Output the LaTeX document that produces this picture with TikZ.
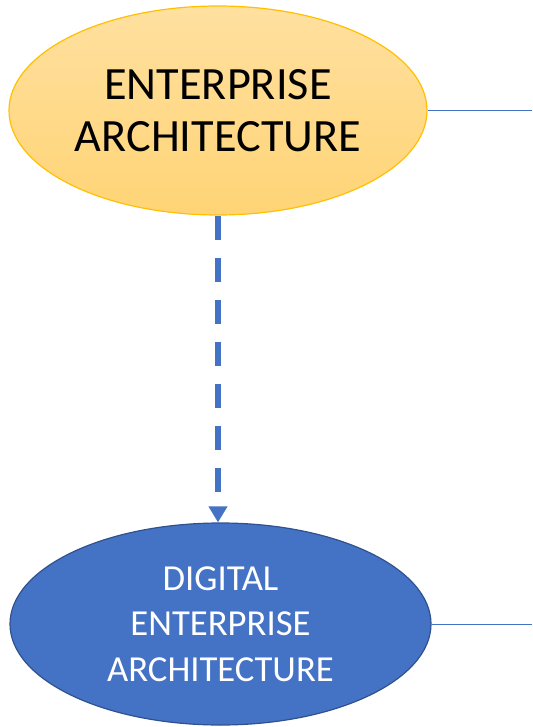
\documentclass[tikz,border=0pt]{standalone}
\usepackage{fontspec}
\setmainfont{Carlito}
\usepackage{xcolor}
\usetikzlibrary{shapes.geometric,arrows.meta,positioning,calc}

\definecolor{eaFill}{HTML}{FFD98B}
\definecolor{eaTop}{HTML}{FFE09F}
\definecolor{eaBottom}{HTML}{FFD476}
\definecolor{eaLine}{HTML}{FFC000}
\definecolor{deaFill}{HTML}{4472C4}
\definecolor{deaLine}{HTML}{2F528F}

\tikzset{
  bubble/.style={ellipse, inner sep=0pt, align=center, line width=0.9pt},
  link/.style={draw=deaFill, line width=0.75pt},
  flow/.style={draw=deaFill, line width=4.5pt, dash pattern=on 18pt off 13.5pt,
    -{Triangle[width=13.5pt, length=12pt]}, shorten >=0pt}
}

\begin{document}
\begin{tikzpicture}[x=0.75pt, y=-0.75pt]
    \useasboundingbox (0,0) rectangle (532,727);
    % Top bubble
    \node[bubble, draw=eaLine, top color=eaTop, bottom color=eaBottom,
      minimum width=313.5pt, minimum height=156.75pt,
      font=\fontsize{34.7}{38.5}\selectfont] (ea) at (218,110.5)
      {ENTERPRISE\\ARCHITECTURE};
    % Bottom bubble
    \node[bubble, draw=deaLine, fill=deaFill, text=white,
      minimum width=315.75pt, minimum height=151.5pt,
      font=\fontsize{27.5}{34}\selectfont] (dea) at (220.5,624)
      {DIGITAL\\ENTERPRISE\\ARCHITECTURE};

    % Connectors
    \coordinate (eaEnd) at (532,110.5);
    \coordinate (deaEnd) at (532,624);
    \draw[link] (ea.east) -- (eaEnd);
    \draw[link] (dea.east) -- (deaEnd);
    \draw[flow] (ea.south) -- (ea.south |- dea.north);
  \end{tikzpicture}
\end{document}
